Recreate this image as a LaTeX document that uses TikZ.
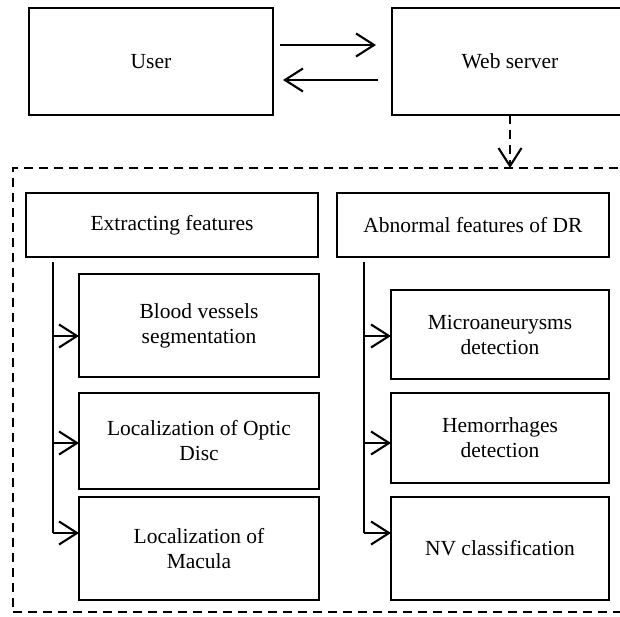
\documentclass[tikz,border=0pt]{standalone}
\usepackage{fontspec}
\setmainfont{Liberation Serif}
\usetikzlibrary{arrows.meta,calc}
\begin{document}
\begin{tikzpicture}[x=1pt,y=-1pt,
  box/.style={draw,line width=2.6pt,rectangle,inner sep=0pt,outer sep=0pt,align=center,
    font=\fontsize{21.5}{25}\selectfont},
  arr/.style={line width=2.1pt,-{Straight Barb[length=18pt,width=23pt,line width=2.1pt]}},
  link/.style={line width=2.1pt},
  dashbox/.style={draw,line width=2.3pt,dash pattern=on 9pt off 6pt,inner sep=0pt,outer sep=0pt}]
\useasboundingbox (0,0) rectangle (620,617);
% top row
\node[box,minimum width=244pt,minimum height=107pt] (user) at (151,61.5) {User};
\node[box,minimum width=236pt,minimum height=107pt] (web) at (510,61.5) {Web server};
\draw[arr] ($(user.east)+(7,-16.5)$) -- ($(web.west)+(-16,-16.5)$);
\draw[arr] ($(web.west)+(-14,18.5)$) -- ($(user.east)+(10,18.5)$);
% dashed container
\node[dashbox,minimum width=613pt,minimum height=444pt] (panel) at (319.5,390) {};
\draw[arr,dash pattern=on 9pt off 6pt] (web.south) -- (web.south |- panel.north);
% headers
\node[box,minimum width=292pt,minimum height=64pt] (ext) at (172,225) {Extracting features};
\node[box,minimum width=272pt,minimum height=64pt] (abn) at (473,225) {Abnormal features of DR};
% left column
\node[box,minimum width=240pt,minimum height=103pt] (blood) at (199,325.5) {Blood vessels\\segmentation};
\node[box,minimum width=240pt,minimum height=96pt] (optic) at (199,441) {Localization of Optic\\Disc};
\node[box,minimum width=240pt,minimum height=103pt] (macula) at (199,548.5) {Localization of\\Macula};
% right column
\node[box,minimum width=218pt,minimum height=89pt] (micro) at (500,334.5) {Microaneurysms\\detection};
\node[box,minimum width=218pt,minimum height=90pt] (hem) at (500,438) {Hemorrhages\\detection};
\node[box,minimum width=218pt,minimum height=103pt] (nv) at (500,548.5) {NV classification};
% left tree
\coordinate (l0) at (53,262);
\coordinate (l1) at (53,336);
\coordinate (l2) at (53,443);
\coordinate (l3) at (53,533);
\draw[link] (l0) -- (l3);
\draw[arr] (l1) -- (l1 -| blood.west);
\draw[arr] (l2) -- (l2 -| optic.west);
\draw[arr] (l3) -- (l3 -| macula.west);
% right tree
\coordinate (r0) at (364,262);
\coordinate (r1) at (364,336);
\coordinate (r2) at (364,443);
\coordinate (r3) at (364,533);
\draw[link] (r0) -- (r3);
\draw[arr] (r1) -- (r1 -| micro.west);
\draw[arr] (r2) -- (r2 -| hem.west);
\draw[arr] (r3) -- (r3 -| nv.west);
\end{tikzpicture}
\end{document}
